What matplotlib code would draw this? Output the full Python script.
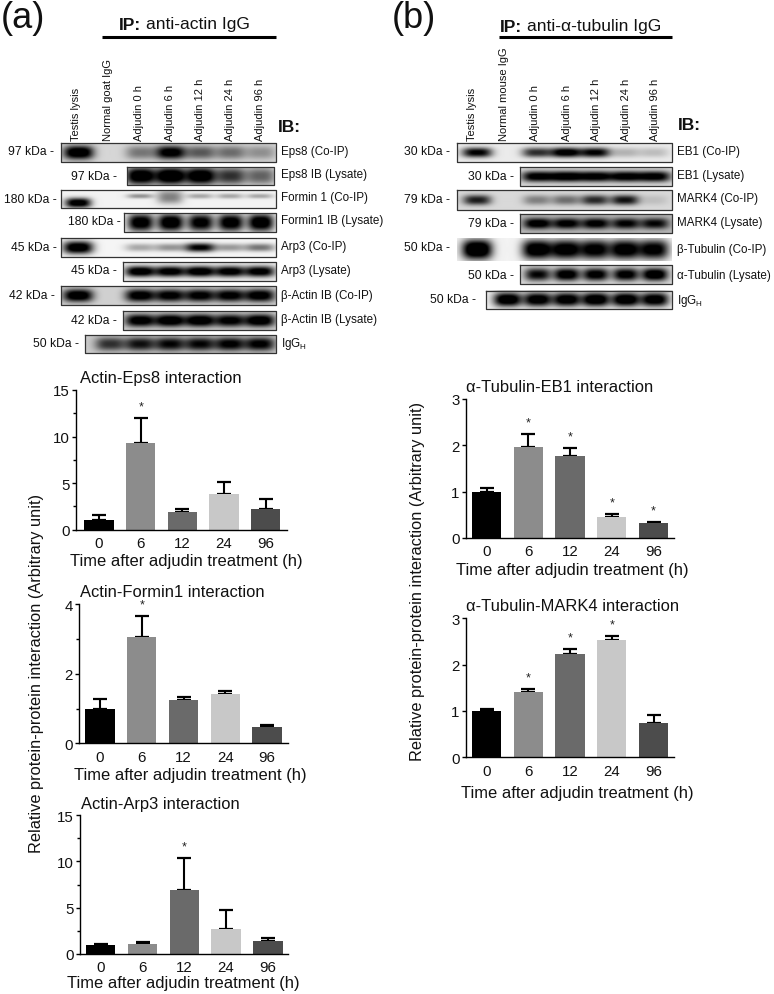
import numpy as np
import matplotlib
matplotlib.use("Agg")
import matplotlib.pyplot as plt
from matplotlib.ticker import MultipleLocator

plt.rcParams['font.family'] = ['Liberation Sans', 'DejaVu Sans']
plt.rcParams['mathtext.fontset'] = 'custom'
plt.rcParams['mathtext.rm'] = 'Liberation Sans'
plt.rcParams['mathtext.default'] = 'regular'

W, H = 774, 995
TIMES = ['0', '6', '12', '24', '96']
XLABEL = 'Time after adjudin treatment (h)'
YLABEL = 'Relative protein-protein interaction (Arbitrary unit)'
BAR_COLORS = ['#000000', '#8c8c8c', '#6a6a6a', '#c8c8c8', '#4c4c4c']

# bar data: means, upper error limits, significant flags
eps8_mean = [1.0, 9.3, 1.9, 3.8, 2.25]
eps8_top = [1.55, 12.0, 2.25, 5.15, 3.3]
eps8_sig = [0, 1, 0, 0, 0]
formin_mean = [1.0, 3.07, 1.25, 1.42, 0.48]
formin_top = [1.27, 3.67, 1.34, 1.5, 0.54]
formin_sig = [0, 1, 0, 0, 0]
arp3_mean = [1.0, 1.05, 6.9, 2.75, 1.35]
arp3_top = [1.12, 1.3, 10.4, 4.75, 1.72]
arp3_sig = [0, 0, 1, 0, 0]
eb1_mean = [1.0, 1.97, 1.78, 0.46, 0.32]
eb1_top = [1.07, 2.24, 1.95, 0.52, 0.34]
eb1_sig = [0, 1, 1, 1, 1]
mark4_mean = [1.0, 1.4, 2.23, 2.54, 0.75]
mark4_top = [1.05, 1.48, 2.33, 2.62, 0.92]
mark4_sig = [0, 1, 1, 1, 0]

# blot band strengths read by eye, lanes: testis, normal IgG, 0, 6, 12, 24, 96 h
lanes_a = ['Testis lysis', 'Normal goat IgG', 'Adjudin 0 h', 'Adjudin 6 h', 'Adjudin 12 h', 'Adjudin 24 h', 'Adjudin 96 h']
lanes_b = ['Testis lysis', 'Normal mouse IgG', 'Adjudin 0 h', 'Adjudin 6 h', 'Adjudin 12 h', 'Adjudin 24 h', 'Adjudin 96 h']
a_eps8_co = [1.05, 0, .38, .95, .5, .42, .28]
a_eps8_ly = [0, 0, 1.1, 1.15, 1.1, .72, .52]
a_for_co = [1.1, 0, .38, .45, .3, .3, .3]
a_for_ly = [0, 0, 1.1, 1.15, 1.05, 1.1, 1.15]
a_arp_co = [1.15, 0, .3, .38, 1.0, .36, .5]
a_arp_ly = [0, 0, 1.1, 1.05, 1.1, 1.05, 1.05]
a_act_co = [1.0, 0, .95, .9, .9, .9, .95]
a_act_ly = [0, 0, .95, 1.0, 1.0, .9, 1.0]
a_igg = [0, .62, .75, .8, .8, .85, .85]
b_eb1_co = [.95, 0, .75, 1.05, .95, .22, .18]
b_eb1_ly = [0, 0, .95, 1.0, .95, .95, .95]
b_mrk_co = [.75, 0, .35, .42, .7, .8, .1]
b_mrk_ly = [0, 0, .85, .8, .8, .75, .72]
b_tub_co = [1.3, 0, 1.15, 1.1, 1.05, 1.1, 1.05]
b_tub_ly = [0, 0, .85, 1.0, .95, .95, 1.05]
b_igg = [.0, 1.15, 1.1, 1.1, 1.15, 1.15, 1.1]

fig = plt.figure(figsize=(W / 100, H / 100), dpi=100, facecolor='white')
ov = fig.add_axes([0, 0, 1, 1], zorder=0)
ov.set_xlim(0, W)
ov.set_ylim(H, 0)
ov.axis('off')


def blot(xc, box, vals, bg, bw, bh, border=True, yoff=None, thin=None):
    x0, x1, y0, y1 = box
    xs = np.linspace(x0, x1, int((x1 - x0) * 2))
    ys = np.linspace(y0, y1, int((y1 - y0) * 2))
    X, Y = np.meshgrid(xs, ys)
    img = np.full(X.shape, float(bg))
    ym = (y0 + y1) / 2
    for i, (c, v) in enumerate(zip(xc, vals)):
        if v <= 0:
            continue
        dy = 0 if yoff is None else yoff[i]
        h = bh if thin is None else thin[i]
        img -= v * np.exp(-(((X - c) / bw) ** 2) ** 1.5 - (((Y - ym - dy) / h) ** 2) ** 1.2)
    ov.imshow(np.clip(img, 0, 1), extent=(x0, x1, y1, y0), cmap='gray', vmin=0, vmax=1,
              aspect='auto', interpolation='bilinear', zorder=1)
    if border:
        ov.plot([x0, x1, x1, x0, x0], [y0, y0, y1, y1, y0], color='#333333', lw=0.9, zorder=2)


xa = [78, 110, 140, 170, 200, 230, 260]
xb = [477, 507, 537, 566, 595, 625, 654]
xa_text = [76, 108, 139, 170, 200, 230, 260]
xb_text = [472, 504, 535, 567, 596, 626, 655]

blot(xa, (60.5, 276, 144, 163), a_eps8_co, .84, 15, 7)
blot(xa, (126.5, 274, 168, 186), a_eps8_ly, .90, 15, 9)
blot(xa, (61, 276, 191, 209), a_for_co, .95, 13, 2.5, yoff=[4, 0, -3, -2, -3, -3, -3], thin=[5, 2.4, 2.4, 7, 2.6, 2.6, 2.4])
blot(xa, (123.5, 276, 214, 233), a_for_ly, .95, 13, 9)
blot(xa, (61, 276, 239, 258), a_arp_co, .96, 15, 5, thin=[6.5, 4, 4, 4, 4.5, 4, 4])
blot(xa, (123, 276, 263, 282), a_arp_ly, .93, 15, 5.5)
blot(xa, (61, 276, 287, 306), a_act_co, .82, 15, 6.5)
blot(xa, (123, 276, 312, 331), a_act_ly, .82, 15, 6.5)
blot(xa, (85, 276, 336, 354), a_igg, .80, 15, 7)
blot(xb, (457, 672, 144, 163), b_eb1_co, .92, 15, 5)
blot(xb, (519.5, 672, 168, 187), b_eb1_ly, .85, 16, 5.5)
blot(xb, (457, 672, 191, 210.5), b_mrk_co, .85, 14, 5)
blot(xb, (519.5, 672, 215, 234), b_mrk_ly, .72, 14, 5.5)
blot(xb, (457, 672, 239, 262), b_tub_co, .95, 15, 10, border=False)
blot(xb, (519.5, 672, 266, 285), b_tub_ly, .85, 13, 6.5)
blot(xb, (485.5, 672, 291.5, 310), b_igg, .94, 14, 7)

ov.set_xlim(0, W)
ov.set_ylim(H, 0)

RS = 8.35
a_right = [('Eps8 (Co-IP)', 152), ('Eps8 IB (Lysate)', 175), ('Formin 1 (Co-IP)', 198), ('Formin1 IB (Lysate)', 221),
           ('Arp3 (Co-IP)', 247), ('Arp3 (Lysate)', 271), ('β-Actin IB (Co-IP)', 296), ('β-Actin IB (Lysate)', 320),
           ('IgG$_{H}$', 344)]
b_right = [('EB1 (Co-IP)', 152), ('EB1 (Lysate)', 176), ('MARK4 (Co-IP)', 199), ('MARK4 (Lysate)', 223),
           ('β-Tubulin (Co-IP)', 250), ('α-Tubulin (Lysate)', 276), ('IgG$_{H}$', 301)]
for t, y in a_right:
    ov.text(281, y, t, fontsize=RS, ha='left', va='center', color='#111111')
for t, y in b_right:
    ov.text(677, y, t, fontsize=RS, ha='left', va='center', color='#111111')

a_kda = [('97 kDa -', 54, 152), ('97 kDa -', 117, 177), ('180 kDa -', 57, 200), ('180 kDa -', 121, 222),
         ('45 kDa -', 57, 248), ('45 kDa -', 117, 271), ('42 kDa -', 55, 296), ('42 kDa -', 117, 321), ('50 kDa -', 79, 344)]
b_kda = [('30 kDa -', 450, 152), ('30 kDa -', 514, 177), ('79 kDa -', 450, 200), ('79 kDa -', 514, 224),
         ('50 kDa -', 450, 248), ('50 kDa -', 514, 276), ('50 kDa -', 476, 300)]
for t, x, y in a_kda + b_kda:
    ov.text(x, y, t, fontsize=8.7, ha='right', va='center', color='#111111')

for lab, x in zip(lanes_a, xa_text):
    ov.text(x, 141, lab, rotation=90, fontsize=8.05, ha='center', va='bottom', color='#111111')
for lab, x in zip(lanes_b, xb_text):
    ov.text(x, 141, lab, rotation=90, fontsize=8.05, ha='center', va='bottom', color='#111111')

ov.text(1, 18, '(a)', fontsize=26, ha='left', va='center', color='#111111')
ov.text(392, 18, '(b)', fontsize=26, ha='left', va='center', color='#111111')
ov.text(119, 25, 'IP:', fontsize=12.5, fontweight='bold', ha='left', va='center', color='#111111')
ov.text(146, 25, 'anti-actin IgG', fontsize=12.6, ha='left', va='center', color='#111111')
ov.text(500, 27, 'IP:', fontsize=12.5, fontweight='bold', ha='left', va='center', color='#111111')
ov.text(527, 27, 'anti-α-tubulin IgG', fontsize=12.6, ha='left', va='center', color='#111111')
ov.plot([102, 276], [37.5, 37.5], color='black', lw=2.2, solid_capstyle='butt')
ov.plot([499, 672], [37.5, 37.5], color='black', lw=2.2, solid_capstyle='butt')
ov.text(278, 127, 'IB:', fontsize=12.5, fontweight='bold', ha='left', va='center', color='#111111')
ov.text(678, 126, 'IB:', fontsize=12.5, fontweight='bold', ha='left', va='center', color='#111111')

ov.text(37, 673.5, YLABEL, rotation=90, fontsize=11.8, ha='center', va='center', color='#111111')
ov.text(417.5, 581.5, YLABEL, rotation=90, fontsize=11.8, ha='center', va='center', color='#111111')


def bars(title, mean, top, sig, left, right, y_top, y_zero, ymax, major, minor, c0, dx,
         title_xy, xlabel_xy):
    ax = fig.add_axes([left / W, 1 - y_zero / H, (right - left) / W, (y_zero - y_top) / H], zorder=3)
    ax.patch.set_alpha(0)
    ax.set_xlim((left - c0) / dx, (right - c0) / dx)
    ax.set_ylim(0, ymax)
    x = np.arange(len(mean))
    ax.bar(x, mean, width=0.705, color=BAR_COLORS, zorder=2)
    up = [t - m for t, m in zip(top, mean)]
    for xi, m, u in zip(x, mean, up):
        ax.errorbar(xi, m, yerr=[[0], [u]], color='black', elinewidth=1.5, capsize=4.9, capthick=1.6,
                    zorder=1.5, fmt='none')
    for xi, t, s in zip(x, top, sig):
        if s:
            ax.annotate('*', (xi, t), xytext=(0, 4), textcoords='offset points', ha='center', va='bottom',
                        fontsize=9, color='#222222')
    for s in ('top', 'right'):
        ax.spines[s].set_visible(False)
    ax.spines['left'].set_linewidth(1.0)
    ax.spines['bottom'].set_linewidth(1.0)
    ax.set_xticks(x)
    ax.set_xticklabels(TIMES)
    ax.tick_params(axis='x', length=0, pad=4.5, labelsize=10.8, labelcolor='#111111')
    ax.yaxis.set_major_locator(MultipleLocator(major))
    if minor:
        ax.yaxis.set_minor_locator(MultipleLocator(minor))
    ax.tick_params(axis='y', which='major', length=3, width=1, pad=1.5, labelsize=10.8, labelcolor='#111111')
    ax.tick_params(axis='y', which='minor', length=2, width=1)
    ax.set_xlabel(XLABEL, fontsize=11.9, color='#111111')
    w, h = right - left, y_zero - y_top
    ax.xaxis.set_label_coords((xlabel_xy[0] - left) / w, (y_zero - xlabel_xy[1]) / h)
    ax.xaxis.label.set_va('center')
    tt = ax.set_title(title, loc='left', fontsize=11.9, color='#111111', y=(y_zero - title_xy[1]) / h, va='center', pad=0)
    tt.set_x((title_xy[0] - left) / w)
    return ax


bars('Actin-Eps8 interaction', eps8_mean, eps8_top, eps8_sig, 76, 287, 391, 530.7, 15, 5, 2.5, 99, 41.7, (80, 379), (186, 561.7))
bars('Actin-Formin1 interaction', formin_mean, formin_top, formin_sig, 79.3, 287.7, 605.3, 744.3, 4, 2, 1, 100, 41.75, (80, 592.7), (190, 775.7))
bars('Actin-Arp3 interaction', arp3_mean, arp3_top, arp3_sig, 80, 288, 816, 955, 15, 5, 2.5, 100.7, 41.8, (81, 804), (183, 984))
bars('α-Tubulin-EB1 interaction', eb1_mean, eb1_top, eb1_sig, 466, 674, 400, 539, 3, 1, 0, 486.7, 41.7, (465.7, 387.7), (572, 570))
bars('α-Tubulin-MARK4 interaction', mark4_mean, mark4_top, mark4_sig, 466, 674, 619.3, 758.3, 3, 1, 0, 486.7, 41.7, (465.7, 606.7), (577, 794))

fig.savefig('out.png', dpi=100, facecolor='white')
